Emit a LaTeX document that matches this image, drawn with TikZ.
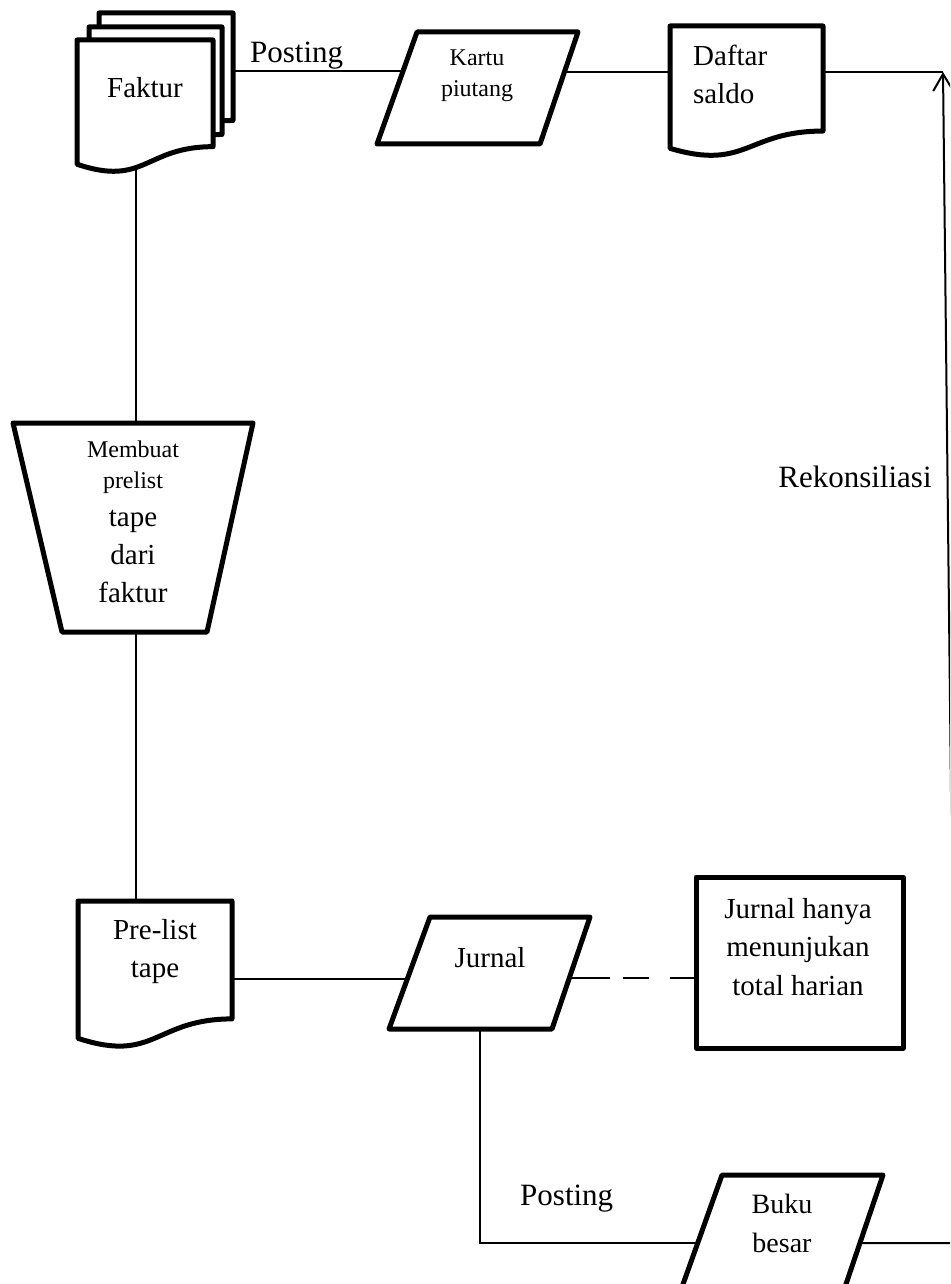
\documentclass[tikz,border=0pt]{standalone}
\usepackage{fontspec}
\setmainfont{Liberation Serif}
\usetikzlibrary{arrows.meta}
\newcommand\flowdoc[4]{%
  \draw[shp] (#1,#2) -- (#3,#2) -- (#3,{#2+0.802*#4})
    .. controls ({(#1+#3)/2},{#2+0.802*#4}) and ({(#1+#3)/2},{#2+1.107*#4}) ..
    (#1,{#2+0.934*#4}) -- cycle;}
\begin{document}
\begin{tikzpicture}[x=1pt,y=-1pt,
  shp/.style={draw=black,line width=5pt,line join=round,fill=white},
  conn/.style={draw=black,line width=2pt},
  lbl/.style={inner sep=0pt,align=center,font=\fontsize{29}{38}\selectfont},
  small/.style={inner sep=0pt,align=center,font=\fontsize{24}{31}\selectfont}]
\useasboundingbox (0,0) rectangle (950,1284);
\clip (0,0) rectangle (950,1284);
\fill[white] (0,0) rectangle (950,1284);

% connector end points on the shape borders
\coordinate (fakturE) at (233,71);
\coordinate (fakturS) at (136,168);
\coordinate (kartuW) at (403,71);
\coordinate (kartuE) at (564,72);
\coordinate (daftarW) at (670,72);
\coordinate (daftarE) at (823,72);
\coordinate (rekTop) at (943,72);
\coordinate (rekCorner) at (956,1243);
\coordinate (prosesN) at (136,423);
\coordinate (prosesS) at (136,632);
\coordinate (prelistN) at (136,901);
\coordinate (prelistE) at (232,979);
\coordinate (jurnalW) at (407,979);
\coordinate (jurnalE) at (569,978);
\coordinate (jurnalS) at (480,1029);
\coordinate (jurnalTurn) at (480,1243);
\coordinate (catatanW) at (696,978);
\coordinate (bukuW) at (698,1243);
\coordinate (bukuE) at (860,1243);

% connectors
\draw[conn] (fakturE) -- (kartuW);
\draw[conn] (kartuE) -- (daftarW);
\draw[conn] (daftarE) -- (rekTop);
\draw[conn,-{Straight Barb[length=17pt,width=20pt]}] (bukuE) -- (rekCorner) -- (rekTop);
\draw[conn] (fakturS) -- (prosesN);
\draw[conn] (prosesS) -- (prelistN);
\draw[conn] (prelistE) -- (jurnalW);
\draw[conn,dash pattern=on 41pt off 13pt on 26pt off 21pt on 30pt] (jurnalE) -- (catatanW);
\draw[conn] (jurnalS) -- (jurnalTurn) -- (bukuW);

% Faktur (multiple documents)
\flowdoc{99}{13}{233}{134}
\flowdoc{89}{27}{222}{134}
\flowdoc{77}{40}{213}{133}
\node[lbl] (faktur) at (145,88) {Faktur};

% Kartu piutang
\draw[shp] (417,32) -- (578,32) -- (540,144) -- (377,144) -- cycle;
\node[small] (kartu) at (477,76) {Kartu\\piutang};

% Daftar saldo
\flowdoc{670}{26}{823}{131}
\node[lbl,align=left,anchor=west] (daftar) at (693,74) {Daftar\\saldo};

% Membuat prelist (manual operation)
\draw[shp] (13,423) -- (253,423) -- (207,632) -- (62,632) -- cycle;
\node[lbl] (proses) at (133,522) {\fontsize{24}{31}\selectfont Membuat\\[-7pt]
  \fontsize{24}{31}\selectfont prelist\\ tape\\ dari\\ faktur};

% Pre-list tape
\flowdoc{78}{901}{232}{147}
\node[lbl] (prelist) at (155,952) {Pre-list\\tape};

% Jurnal
\draw[shp] (430,917) -- (590,917) -- (552,1029) -- (389,1029) -- cycle;
\node[lbl] (jurnal) at (490,958) {Jurnal};

% Note box
\draw[shp] (696,877) rectangle (903,1048);
\node[lbl,font=\fontsize{29}{38.5}\selectfont] (catatan) at (798,947) {Jurnal hanya\\menunjukan\\total harian};

% Buku besar
\draw[shp] (722,1175) -- (883,1175) -- (845,1287) -- (682,1287) -- cycle;
\node[lbl,font=\fontsize{28}{39}\selectfont] (buku) at (782,1223) {Buku\\besar};

% free labels
\node[inner sep=0pt,anchor=base west,font=\fontsize{31}{38}\selectfont] (posting1) at (250,63) {Posting};
\node[inner sep=0pt,anchor=base west,font=\fontsize{31}{38}\selectfont] (posting2) at (520,1205) {Posting};
\node[inner sep=0pt,font=\fontsize{31}{38}\selectfont] (rekon) at (855,477) {Rekonsiliasi};
\end{tikzpicture}
\end{document}
